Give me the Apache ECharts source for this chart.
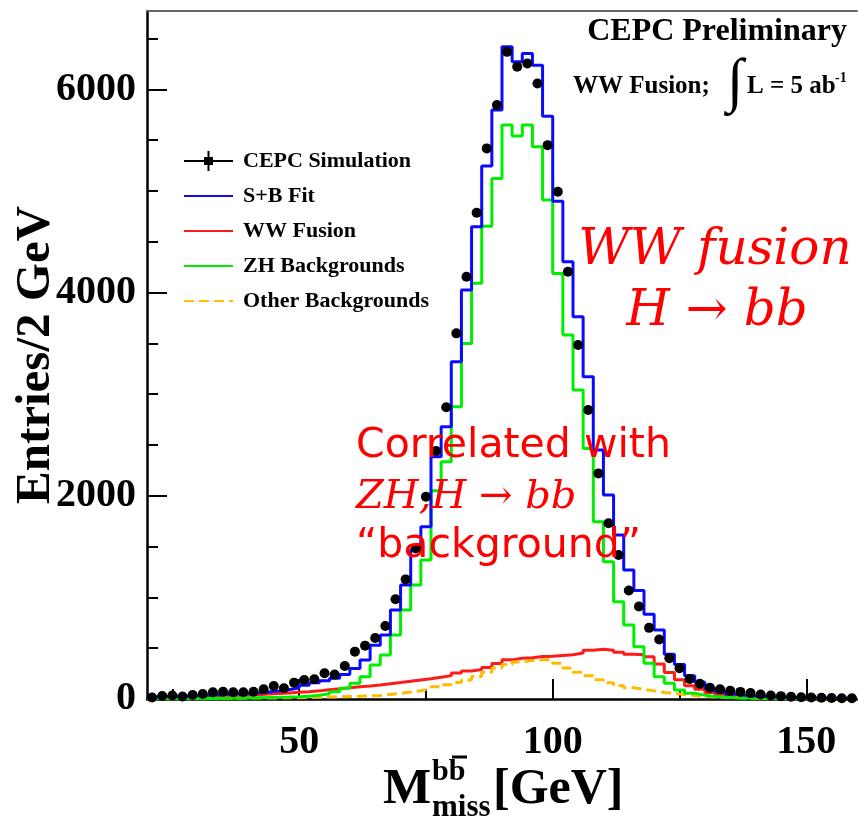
<!DOCTYPE html>
<html>
<head>
<meta charset="utf-8">
<script src="https://cdn.jsdelivr.net/npm/echarts@6/dist/echarts.min.js"></script>
<style>
html,body{margin:0;padding:0;background:#fff;}
#chart{width:858px;height:821px;}
</style>
</head>
<body>
<div id="chart"></div>
<script>
// Histogram binning (GeV)
const xMin = 20;
const xMax = 160;
const binWidth = 2;

// Tick values
const xMajorTicks = [50, 100, 150];
const xMinorTicks = [25, 75, 125];
const yMajorTicks = [0, 2000, 4000, 6000];
const yMinorTicks = [500, 1000, 1500, 2500, 3000, 3500, 4500, 5000, 5500, 6500];

// CEPC Simulation (black points), entries per 2 GeV bin starting at 20 GeV
const simulation = [
  15, 30, 35, 25, 40, 49, 66, 72, 66, 66,
  72, 95, 128, 105, 161, 187, 194, 253, 240, 325,
  466, 525, 600, 718, 981, 1177, 1482, 1990, 2440, 2870,
  3598, 4155, 4784, 5418, 5844, 6368, 6221, 6254, 6057, 5450,
  4991, 4204, 3483, 2843, 2220, 1729, 1417, 1067, 910, 700,
  585, 402, 303, 197, 150, 110, 95, 80, 70, 58,
  45, 35, 28, 22, 18, 15, 12, 10, 8, 8
];

// S+B Fit (blue)
const sbFit = [
  22, 24, 27, 30, 34, 38, 42, 46, 50, 55,
  62, 70, 80, 92, 110, 135, 160, 180, 203, 240,
  300, 384, 530, 630, 876, 1122, 1466, 1695, 2384, 2679,
  3319, 4024, 4647, 5244, 5795, 6417, 6270, 6352, 6237, 5735,
  4899, 4302, 3761, 3171, 2450, 2007, 1613, 1269, 1068, 835,
  679, 440, 340, 228, 165, 105, 72, 50, 38, 30,
  24, 20, 16, 14, 12, 10, 9, 8, 7, 6
];

// WW Fusion (red)
const wwFusion = [
  8, 10, 12, 15, 18, 21, 25, 29, 33, 38,
  43, 48, 54, 60, 66, 72, 80, 90, 100, 110,
  120, 128, 138, 150, 162, 175, 188, 200, 215, 230,
  255, 275, 290, 310, 350, 385, 400, 405, 418, 420,
  428, 436, 452, 480, 490, 480, 460, 440, 435, 415,
  345, 260, 190, 130, 95, 65, 45, 30, 20, 14,
  10, 8, 6, 5, 4, 3, 3, 2, 2, 2
];

// ZH Backgrounds (green)
const zhBackgrounds = [
  2, 2, 3, 3, 4, 5, 6, 7, 8, 10,
  12, 14, 16, 19, 23, 28, 38, 52, 72, 105,
  154, 220, 334, 433, 630, 876, 1122, 1367, 2050, 2335,
  2876, 3499, 4090, 4653, 5122, 5647, 5539, 5647, 5434, 4909,
  4188, 3581, 3040, 2466, 1744, 1351, 957, 728, 515, 351,
  220, 154, 89, 56, 38, 25, 18, 12, 9, 7,
  5, 4, 4, 3, 3, 2, 2, 2, 1, 1
];

// Other Backgrounds (orange dashed)
const otherBackgrounds = [
  4, 5, 5, 6, 6, 7, 7, 8, 8, 9,
  10, 10, 11, 12, 13, 15, 17, 19, 21, 24,
  27, 30, 35, 45, 55, 68, 82, 100, 120, 140,
  162, 188, 222, 262, 305, 340, 365, 378, 387, 385,
  352, 305, 262, 230, 190, 160, 130, 110, 95, 80,
  65, 55, 45, 35, 28, 20, 15, 12, 10, 8,
  7, 6, 5, 5, 4, 4, 3, 3, 2, 2
];

const seriesNames = ['CEPC Simulation', 'S+B Fit', 'WW Fusion', 'ZH Backgrounds', 'Other Backgrounds'];

function stepData(values) {
  const out = values.map((v, i) => [xMin + i * binWidth, v]);
  out.push([xMax, values[values.length - 1]]);
  return out;
}
function pointData(values) {
  return values.map((v, i) => [xMin + (i + 0.5) * binWidth, v]);
}

const SERIF = "'Liberation Serif', 'Times New Roman', serif";
const MATH = "'DejaVu Serif', serif";
const SANS = "'DejaVu Sans', sans-serif";
const RED = '#ff0000';

const chart = echarts.init(document.getElementById('chart'), null, {renderer: 'canvas'});

function histSeries(name, values, color, extra) {
  return Object.assign({
    name: name,
    type: 'line',
    step: 'end',
    data: stepData(values),
    showSymbol: false,
    symbol: 'none',
    lineStyle: {color: color, width: 3},
    itemStyle: {color: color},
    animation: false,
    silent: true,
    z: 3
  }, extra || {});
}

const plain = v => String(v);

const option = {
  backgroundColor: '#ffffff',
  animation: false,
  grid: {left: 147, right: 1, top: 11, bottom: 122, containLabel: false, outerBoundsMode: 'none'},
  legend: {
    orient: 'vertical',
    left: 183,
    top: 150,
    padding: 0,
    itemWidth: 49,
    itemHeight: 20,
    itemGap: 13,
    itemStyle: {opacity: 0},
    textStyle: {fontFamily: SERIF, fontWeight: 'bold', fontSize: 22, color: '#000', padding: [0, 0, 0, 5]},
    data: [
      {name: seriesNames[0], icon: 'path://M0,9H49V11H0Z M23.5,0H25.5V20H23.5Z M20,6H29V14H20Z', itemStyle: {color: '#000', opacity: 1}},
      {name: seriesNames[1]},
      {name: seriesNames[2]},
      {name: seriesNames[3]},
      {name: seriesNames[4]}
    ]
  },
  xAxis: [
    {
      type: 'value', min: xMin, max: xMax, position: 'bottom',
      axisLine: {show: true, onZero: false, lineStyle: {color: '#000', width: 2.5}},
      axisTick: {show: true, inside: true, length: 20, customValues: xMajorTicks, lineStyle: {color: '#000', width: 2}},
      axisLabel: {show: true, customValues: xMajorTicks, formatter: plain, margin: 24, fontFamily: SERIF, fontWeight: 'bold', fontSize: 40, color: '#000'},
      splitLine: {show: false}
    },
    {
      type: 'value', min: xMin, max: xMax, position: 'bottom',
      axisLine: {show: false},
      axisTick: {show: true, inside: true, length: 10, customValues: xMinorTicks, lineStyle: {color: '#000', width: 2}},
      axisLabel: {show: false},
      splitLine: {show: false}
    },
    {
      type: 'value', min: xMin, max: xMax, position: 'top',
      axisLine: {show: true, onZero: false, lineStyle: {color: '#666', width: 2}},
      axisTick: {show: false},
      axisLabel: {show: false},
      splitLine: {show: false}
    }
  ],
  yAxis: [
    {
      type: 'value', min: 0, max: 6770, position: 'left',
      name: 'Entries/2 GeV', nameLocation: 'middle', nameRotate: 90, nameGap: 86, nameMoveOverlap: false,
      nameTextStyle: {fontFamily: SERIF, fontWeight: 'bold', fontSize: 49, color: '#000'},
      axisLine: {show: true, onZero: false, lineStyle: {color: '#000', width: 2.5}},
      axisTick: {show: true, inside: true, length: 20, customValues: yMajorTicks, lineStyle: {color: '#000', width: 2}},
      axisLabel: {show: true, customValues: yMajorTicks, formatter: plain, margin: 11, fontFamily: SERIF, fontWeight: 'bold', fontSize: 40, color: '#000'},
      splitLine: {show: false}
    },
    {
      type: 'value', min: 0, max: 6770, position: 'left',
      axisLine: {show: false},
      axisTick: {show: true, inside: true, length: 11, customValues: yMinorTicks, lineStyle: {color: '#000', width: 2}},
      axisLabel: {show: false},
      splitLine: {show: false}
    }
  ],
  series: [
    {
      name: seriesNames[0],
      type: 'scatter',
      data: pointData(simulation),
      symbol: 'circle',
      symbolSize: 10,
      itemStyle: {color: '#000', opacity: 1},
      animation: false,
      silent: true,
      z: 6
    },
    histSeries(seriesNames[2], wwFusion, '#ff1a1a'),
    histSeries(seriesNames[4], otherBackgrounds, '#ffbb00', {lineStyle: {color: '#ffbb00', width: 3, type: [10, 5]}}),
    histSeries(seriesNames[3], zhBackgrounds, '#00ee00'),
    histSeries(seriesNames[1], sbFit, '#0a0aff', {z: 4})
  ],
  graphic: [
    // top-right labels
    {type: 'text', x: 847, y: 32, z: 100,
     style: {text: 'CEPC Preliminary', font: 'bold 32px ' + SERIF, fill: '#000', align: 'right', verticalAlign: 'middle'}},
    {type: 'text', x: 573, y: 87, z: 100,
     style: {text: 'WW Fusion;', font: 'bold 25px ' + SERIF, fill: '#000', align: 'left', verticalAlign: 'middle'}},
    {type: 'text', x: 735, y: 84, z: 100,
     style: {text: '\u222B', font: '60px ' + SERIF, fill: '#000', align: 'center', verticalAlign: 'middle'}},
    {type: 'text', x: 747, y: 87, z: 100,
     style: {text: 'L = 5 ab', font: 'bold 25px ' + SERIF, fill: '#000', align: 'left', verticalAlign: 'middle'}},
    {type: 'text', x: 835, y: 78, z: 100,
     style: {text: '-1', font: 'bold 14px ' + SERIF, fill: '#000', align: 'left', verticalAlign: 'middle'}},
    // x axis title
    {type: 'text', x: 383, y: 790, z: 100,
     style: {text: 'M', font: 'bold 51px ' + SERIF, fill: '#000', align: 'left', verticalAlign: 'middle'}},
    {type: 'text', x: 432, y: 772, z: 100,
     style: {text: 'bb', font: 'bold 30px ' + SERIF, fill: '#000', align: 'left', verticalAlign: 'middle'}},
    {type: 'line', z: 100, shape: {x1: 452, y1: 757, x2: 467, y2: 757}, style: {stroke: '#000', lineWidth: 3}},
    {type: 'text', x: 432, y: 808, z: 100,
     style: {text: 'miss', font: 'bold 31px ' + SERIF, fill: '#000', align: 'left', verticalAlign: 'middle'}},
    {type: 'text', x: 493, y: 790, z: 100,
     style: {text: '[GeV]', font: 'bold 50px ' + SERIF, fill: '#000', align: 'left', verticalAlign: 'middle'}},
    // red annotations
    {type: 'text', x: 715, y: 251, z: 100,
     style: {text: 'WW fusion', font: 'italic 50px ' + MATH, fill: RED, align: 'center', verticalAlign: 'middle'}},
    {type: 'text', x: 717, y: 312, z: 100,
     style: {text: 'H \u2192 bb', font: 'italic 50px ' + MATH, fill: RED, align: 'center', verticalAlign: 'middle'}},
    {type: 'text', x: 356, y: 446, z: 100,
     style: {text: 'Correlated with', font: '41px ' + SANS, fill: RED, align: 'left', verticalAlign: 'middle'}},
    {type: 'text', x: 356, y: 498, z: 100,
     style: {text: 'ZH,H \u2192 bb', font: 'italic 40px ' + MATH, fill: RED, align: 'left', verticalAlign: 'middle'}},
    {type: 'text', x: 356, y: 546, z: 100,
     style: {text: '\u201Cbackground\u201D', font: '41px ' + SANS, fill: RED, align: 'left', verticalAlign: 'middle'}}
  ]
};

chart.setOption(option);
</script>
</body>
</html>
